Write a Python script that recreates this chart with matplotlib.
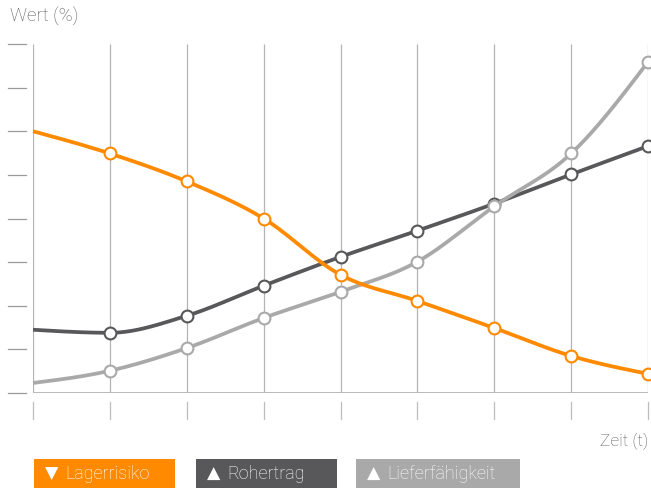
import numpy as np
import matplotlib
matplotlib.use("Agg")
import matplotlib.pyplot as plt
from matplotlib.transforms import blended_transform_factory
from matplotlib.patches import Rectangle

# values (x = time step, y in tick units 0..8)
zeit = [0, 1, 2, 3, 4, 5, 6, 7, 8]
lagerrisiko = [6.0, 5.49, 4.85, 4.0, 2.71, 2.11, 1.49, 0.85, 0.44]
rohertrag = [1.45, 1.38, 1.77, 2.46, 3.12, 3.72, 4.34, 5.01, 5.66]
lieferfaehigkeit = [0.23, 0.51, 1.03, 1.72, 2.32, 3.01, 4.28, 5.49, 7.59]
y_ticks = [0, 1, 2, 3, 4, 5, 6, 7, 8]

legend_marks = ["▼", "▲", "▲"]
legend_labels = ["Lagerrisiko", "Rohertrag", "Lieferfähigkeit"]

ORANGE = "#ff8a00"
DARK = "#58585a"
LIGHT = "#a9a9aa"
GRID = "#b4b4b4"
TEXT = "#5c5c5c"

plt.rcParams["font.family"] = ["Roboto", "DejaVu Sans"]


def monotone(x, y, n=40):
    # monotone cubic curve, like d3 curveMonotoneX
    x = np.asarray(x, float)
    y = np.asarray(y, float)
    h = np.diff(x)
    s = np.diff(y) / h
    m = np.zeros_like(y)
    for i in range(1, len(y) - 1):
        p = (s[i - 1] * h[i] + s[i] * h[i - 1]) / (h[i - 1] + h[i])
        m[i] = (np.sign(s[i - 1]) + np.sign(s[i])) * min(abs(s[i - 1]), abs(s[i]), 0.5 * abs(p))
    m[0] = (3 * s[0] - m[1]) / 2
    m[-1] = (3 * s[-1] - m[-2]) / 2
    xs, ys = [], []
    for i in range(len(h)):
        t = np.linspace(0, 1, n)
        h00 = 2 * t**3 - 3 * t**2 + 1
        h10 = t**3 - 2 * t**2 + t
        h01 = -2 * t**3 + 3 * t**2
        h11 = t**3 - t**2
        xs.append(x[i] + t * h[i])
        ys.append(h00 * y[i] + h10 * h[i] * m[i] + h01 * y[i + 1] + h11 * h[i] * m[i + 1])
    return np.concatenate(xs), np.concatenate(ys)


W, H = 651, 488
fig = plt.figure(figsize=(W / 100, H / 100), dpi=100)
ax = fig.add_axes([33 / W, (H - 393) / H, (648 - 33) / W, (393 - 44) / H])
ax.set_xlim(0, 8)
ax.set_ylim(0, 8)
ax.axis("off")

# grid and axis
ax.vlines(zeit, 0, 8, color=GRID, lw=0.9, zorder=1)
ax.axhline(0, color=GRID, lw=1.3, zorder=1)

# short ticks on the left
tl = blended_transform_factory(fig.transFigure, ax.transData)
for v in y_ticks:
    ax.plot([8 / W, 26 / W], [v, v], color="#9a9a9a", lw=0.9, transform=tl, clip_on=False)

# ticks under the axis
tb = blended_transform_factory(ax.transData, fig.transFigure)
for v in zeit:
    ax.plot([v, v], [(H - 402) / H, (H - 419) / H], color="#bdbdbd", lw=0.9, transform=tb, clip_on=False)

series = [(rohertrag, DARK, 3), (lieferfaehigkeit, LIGHT, 4), (lagerrisiko, ORANGE, 5)]
for vals, col, z in series:
    cx, cy = monotone(zeit, vals)
    ax.plot(cx, cy, color=col, lw=2.7, zorder=z, clip_on=False, solid_capstyle="butt")
    ax.plot(zeit[1:], vals[1:], "o", ms=8.5, mfc="white", mec=col, mew=1.5, zorder=z + 0.5, clip_on=False)

fig.text(10 / W, 1 - 16 / H, "Wert (%)", color=TEXT, fontsize=13.5, fontweight="light", va="center", ha="left")
fig.text(648 / W, 1 - 441 / H, "Zeit (t)", color=TEXT, fontsize=12.5, fontweight="light", va="center", ha="right")

# legend boxes
boxes = [(34, 175, ORANGE), (196, 337, DARK), (356, 520, LIGHT)]
for (x0, x1, col), mark, lab in zip(boxes, legend_marks, legend_labels):
    fig.patches.append(Rectangle((x0 / W, 0), (x1 - x0) / W, (488 - 459) / H,
                                 transform=fig.transFigure, color=col, lw=0))
    fig.text((x0 + 11) / W, (488 - 474) / H, mark, color="white", fontsize=12.5,
             family="DejaVu Sans", va="center", ha="left")
    fig.text((x0 + 31) / W, (488 - 474) / H, lab, color="white", fontsize=13,
             fontweight="light", va="center", ha="left")

fig.savefig("out.png", dpi=100)
